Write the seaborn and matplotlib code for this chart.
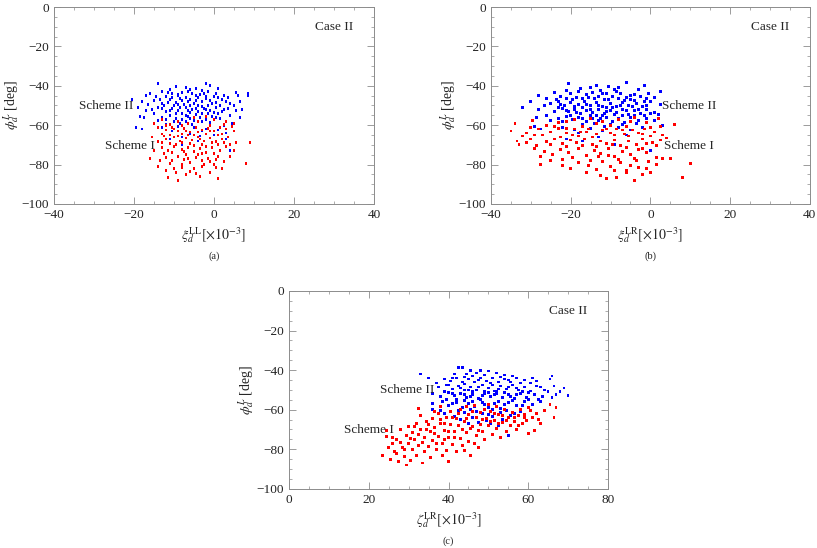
import pandas as pd
import matplotlib
matplotlib.use("Agg")
import matplotlib.pyplot as plt
import seaborn as sns
from matplotlib.ticker import MultipleLocator

# points (x in 10^-3, phi in deg)
a_scheme2 = [(-14,-39),(-9.5,-40.5),(-7,-41),(-2,-39),(-1,-40),(-4.5,-41.5),(-11,-42),(-6,-42),(1,-41.5),(-3,-42.5),
    (-16,-44),(-13,-43),(-10.5,-44),(-8,-43.5),(-5.5,-44),(-3.5,-44.5),(-1.5,-43),(0.5,-44),(2.5,-45),(5.5,-43.5),
    (8.5,-44),(8.5,-45),(-12,-45.5),(-9,-45),(-7,-46),(-4,-46),(-2,-45.5),(3.5,-46),(-14.5,-45.5),(6,-45),
    (-20.5,-47),(-18,-48),(-15,-47.5),(-13,-49),(-11,-47),(-9.5,-48.5),(-8,-47.5),(-6.5,-48),(-5,-49),(-3,-48),
    (-1,-47.5),(0.5,-48.5),(2,-47),(4,-49),(6.5,-48),(-7.5,-49.5),(-4,-50),(-10,-50),(-12.5,-50),(1.5,-50),(-16.5,-49.5),
    (-19,-51),(-17,-52.5),(-14,-51),(-12,-53),(-10.5,-51.5),(-9,-52.5),(-7,-51),(-5.5,-52),(-4,-53),(-2.5,-51.5),
    (-1,-52.5),(0.5,-51),(2,-53),(3.5,-51.5),(5.5,-52.5),(-8,-54),(-6,-53.5),(-3,-54),(-15,-54),(1,-54),
    (-18.5,-55.5),(-13,-56),(-11,-55),(-9.5,-56.5),(-8,-57),(-6.5,-55.5),(-5,-57.5),(-3.5,-56),(-2,-57),(-0.5,-55.5),
    (1.5,-56.5),(4,-55),(6.5,-56),(-10,-58),(-7,-58),(-1,-58.5),
    (-19.5,-61),(-18,-62),(-12,-59.5),(-9,-60.5),(-7.5,-62),(-5,-61),(-3,-63),(-1,-60),(1,-62.5),(2.5,-60),
    (-6,-64.5),(-10.5,-63),(0,-65),(3,-64),(-11,-67),(-4,-68),(3,-67),(4,-73),(-8,-70),(1,-70),
    (-11.5,-43.5),(-9,-44.5),(-6.5,-43),(-4.5,-45),(-2.5,-44),(0,-45.5),(-13.5,-47),(-10.5,-46),(-8.5,-46.5),(-6,-47),
    (-4.5,-47.5),(-2,-46.5),(-0.5,-49),(1,-46),(3,-48),(-11.5,-48.5),(-9,-49.5),(-6,-50),(-3,-50.5),(-1.5,-50),
    (-13,-51.5),(-11,-52.5),(-8.5,-51),(-6.5,-52.5),(-4.5,-51.5),(-2,-52),(0,-53.5),(2.5,-52),(-9.5,-54),(-7,-55),
    (-4.5,-54.5),(-1.5,-54),(0.5,-56),(-12,-57),(-6,-56.5),(-3,-58),(-8.5,-59),(-5.5,-59.5),(-17,-45),(-15.5,-52),
    (-17.5,-56),(5,-50),(7,-52),(-14,-57.5),(-13,-61),(-2,-62),(4.5,-59),(-8,-66),(-3.5,-65.5)]

a_scheme1 = [(-13,-57),(-9,-58),(-5,-56),(-2,-55.5),(0,-57),(3,-58),(5,-59),(-15,-59),(-11,-59.5),(-6.5,-59),
    (-14,-61),(-12,-62.5),(-10.5,-61),(-9,-63),(-7.5,-61.5),(-6,-63.5),(-4.5,-61),(-3,-62.5),(-1.5,-61.5),(0,-63),
    (1.5,-61),(3,-62),(4.5,-60.5),(-13,-64.5),(-8,-64.5),(-5,-65),(-2,-64.5),(2,-64.5),(5,-63),(-11,-65),
    (-15.5,-66),(-12,-67),(-10,-66),(-8.5,-68),(-7,-66.5),(-5.5,-67.5),(-4,-66),(-2.5,-68),(-1,-66.5),(0.5,-68.5),
    (2,-67),(3.5,-66),(5.5,-69),(-11,-69.5),(-6,-69.5),(-3,-70),(1,-70),(9,-69),(-14,-68.5),(-9.5,-70),
    (-13,-71.5),(-11.5,-73),(-10,-71),(-8,-72.5),(-6.5,-71.5),(-5,-73.5),(-3.5,-72),(-2,-74),(-0.5,-71.5),(1.5,-73),
    (3,-71),(-12.5,-74.5),(-7,-75),(-4,-75),(0,-74.5),
    (-16,-77),(-12,-76.5),(-10.5,-78),(-9,-76),(-7.5,-77.5),(-6,-79),(-4.5,-76.5),(-3,-78),(-1.5,-77),(1,-76),
    (2.5,-78.5),(-11,-79.5),(-8,-80),(8,-79.5),(0,-80),
    (-14,-81),(-12,-83),(-10,-82),(-8,-81.5),(-6,-83.5),(-5,-82),(-3,-81),(-1,-84),(0.5,-81.5),(-11.5,-86.5),
    (-9,-88),(-7,-85),(-4.5,-84.5),(1,-87),
    (-12,-60),(-8,-60),(-4,-58),(-1,-60),(2.5,-59.5),(-10,-62),(-7,-63),(-4,-63.5),(-1,-63),(1,-65),
    (-12.5,-65.5),(-9,-65.5),(-6.5,-65),(-3.5,-67),(-0.5,-69),(2.5,-69),(4,-70),(-13,-69),(-8,-69),(-5,-70.5),
    (-2,-71),(-10.5,-74),(-7.5,-73.5),(-3,-74.5),(0.5,-77.5),(4,-76),(-13.5,-78),(-6.5,-77),(-2.5,-80),(-9.5,-84),
    (-3.5,-86),(2,-82),(-15,-73),(5,-73),(-1,-78.5)]

b_scheme2 = [(-20.5,-39),(-17.5,-41.5),(-15,-41),(-12.5,-42.5),(-10.5,-40.5),(-9,-42),(-6,-38.5),(-1.5,-40),(-13.5,-40),(-8,-41),
    (-24,-43.5),(-22.5,-45.5),(-20,-44),(-18.5,-46),(-16,-44.5),(-14.5,-43.5),(-13,-45.5),(-11,-44),(-9.5,-45.5),(-7.5,-44),
    (-6,-46),(-4,-44.5),(-2.5,-45.5),(-0.5,-44),(2.5,-43),(-28,-45),(-26,-46.5),(-11.5,-47),(-19.5,-47),(-5,-47),
    (-30,-48),(-25,-49),(-23,-48),(-21.5,-50),(-20,-48.5),(-18,-49.5),(-16.5,-48),(-15,-50),(-13.5,-48.5),(-12,-50.5),
    (-10,-49),(-8.5,-50.5),(-7,-48.5),(-5.5,-50),(-3.5,-49),(-2,-50.5),(0,-48),(2.5,-49.5),(-17,-51),(-9.5,-51),
    (-32,-51),(-28,-52),(-24,-53),(-22,-51.5),(-20.5,-53),(-19,-52),(-17.5,-54),(-16,-52.5),(-14.5,-53.5),(-13,-52),
    (-11.5,-54),(-10,-52.5),(-8.5,-53.5),(-7,-52),(-5.5,-54.5),(-4,-52.5),(-2.5,-54),(-1,-52),(1,-53.5),(-26,-55),(-12,-55),
    (-23,-56.5),(-21,-55.5),(-19.5,-57),(-18,-56),(-16,-58),(-14.5,-56.5),(-13,-57.5),(-11,-56),(-9.5,-58),(-8,-56.5),
    (-6.5,-58.5),(-5,-56),(-3,-57.5),(-1,-56.5),(2,-54.5),(-17,-59.5),(-10,-59.5),
    (-29,-60.5),(-27.5,-62),(-22,-61),(-19,-62.5),(-15,-61.5),(-12,-63),(-8,-61),(-5,-62.5),(-2,-61),(3,-60),
    (-21,-67),(-17,-68),(-13,-66),(-6,-65),(0,-73),(-9,-70),
    (-21,-42.5),(-18,-43),(-15.5,-46),(-12,-44),(-8.5,-43),(-5,-45),(-3,-42),(-1,-46.5),(-23.5,-47),(-21,-46.5),
    (-17,-46.5),(-14,-46.5),(-10.5,-47),(-8,-46.5),(-6.5,-47.5),(-4,-47.5),(-1.5,-48),(1,-46),(-22.5,-49.5),(-19,-50.5),
    (-16,-49.5),(-13,-50),(-11,-51),(-7.5,-50),(-4.5,-50.5),(-1,-50),(-23,-51),(-21,-52.5),(-18.5,-53.5),(-15,-52),
    (-13.5,-55),(-11,-53),(-9,-54.5),(-6,-52.5),(-3,-52),(0,-54),(-20,-55),(-17,-56.5),(-15,-55),(-12.5,-56.5),
    (-7,-55),(-4,-55),(-1.5,-55),(-22,-58),(-14,-59),(-11.5,-60.5),(-7,-59.5),(-3.5,-59),(-25,-57.5),(-18,-64),
    (1,-57.5),(-26.5,-50),(-28.5,-56)]

b_scheme1 = [(-29.5,-57.5),(-23,-58.5),(-19,-57),(-15,-56.5),(-12,-58),(-8,-57),(-4,-56),(-1,-58.5),(2,-56.5),(6,-59.5),
    (-34,-59),(-26,-60),(-17,-60.5),(-10,-60),(-6,-60.5),(0,-61),
    (-35,-63),(-31,-64),(-28,-62),(-25,-63.5),(-23,-61.5),(-21,-64),(-19,-62),(-17.5,-63.5),(-15.5,-62),(-13.5,-64.5),
    (-12,-62.5),(-10,-64),(-8.5,-62),(-6.5,-64.5),(-4.5,-62.5),(-3,-64),(-1.5,-62),(1,-63.5),(3,-65),(-32,-65.5),(-27,-65),(-18,-65.5),
    (-33.5,-68),(-30,-67),(-28.5,-70.5),(-26,-68.5),(-24,-67),(-22,-69.5),(-20,-67.5),(-18.5,-69),(-16.5,-67),(-14.5,-70),
    (-12.5,-68),(-11,-69.5),(-9,-67.5),(-7.5,-70.5),(-5.5,-68),(-3.5,-70),(-2,-67),(0.5,-69),(2.5,-67.5),(4,-66.5),(-33,-70),
    (-29,-72),(-26.5,-73.5),(-24.5,-75),(-22.5,-72.5),(-20.5,-74),(-18,-72),(-16,-75.5),(-14,-73),(-12.5,-74.5),(-10.5,-72),
    (-9,-76),(-7,-73.5),(-5,-75),(-3,-72.5),(-1,-74),(1.5,-76.5),(-19.5,-76.5),(-13,-76),
    (-27.5,-80),(-25,-78),(-22,-80.5),(-18,-79),(-15.5,-80.5),(-12,-78.5),(-10,-81),(-7.5,-79),(-5,-80.5),(-3.5,-78),
    (-1,-82),(1.5,-80),(3,-77),(10,-79.5),(-13.5,-82.5),(-6,-83),
    (-16,-84),(-12.5,-85.5),(-11,-87),(-8.5,-86.5),(-6,-84),(-4,-88),(-2,-85),(8,-86.5),
    (-21,-58),(-13.5,-59),(-5,-58),(2.5,-60.5),(-30,-61),(-24,-60.5),(-21,-61.5),(-16,-63.5),(-11,-62),(-7,-62.5),
    (-2,-64.5),(0,-65.5),(-29,-65),(-22.5,-66),(-19.5,-65),(-14.5,-66),(-9,-65),(-5.5,-65.5),(-1,-69.5),(1.5,-70.5),
    (-31,-69),(-25,-70),(-21,-71),(-17,-70.5),(-13.5,-71),(-9.5,-70),(-6,-71.5),(-2,-72),(-27.5,-76),(-22,-77.5),
    (-15,-78),(-10.5,-75.5),(-8,-77.5),(-4,-77),(-0.5,-78.5),(-20,-82),(-9,-83),(-3,-81.5),(0,-84),(5,-77)]

c_scheme2 = [(42.5,-38.5),(43.5,-38.5),(45.5,-40),(48,-40),(50,-40.5),(52,-41.5),(44.5,-42),(47,-41.5),(41.5,-42),(33,-42),
    (54,-42.5),(56,-43),(66,-43),(49,-42.5),
    (35,-44),(39,-44.5),(40.5,-45.5),(42,-44),(43.5,-46),(45,-44.5),(46.5,-46),(48,-44),(49.5,-45.5),(51,-44),
    (52.5,-46),(54,-44.5),(55.5,-46),(57,-44),(59,-45),(60.5,-46.5),(62,-45.5),(65.5,-44.5),(37,-46.5),(44,-47),
    (37.5,-48.5),(39.5,-47.5),(41,-49.5),(42.5,-48),(44,-50),(45.5,-48.5),(47,-50),(48.5,-47.5),(50,-49),(51.5,-50.5),
    (53,-48),(54.5,-49.5),(56,-47.5),(57.5,-50),(59,-48.5),(60.5,-50.5),(62,-48),(64,-50),(66.5,-48),(69,-49),(46,-51),(52,-51),
    (36,-52),(38,-53.5),(40,-51.5),(41.5,-53),(43,-52),(44.5,-54),(46,-52.5),(47.5,-54.5),(49,-52),(50.5,-53.5),
    (52,-52),(53.5,-54),(55,-52.5),(56.5,-54.5),(58,-52),(59.5,-54),(61.5,-52.5),(63.5,-53.5),(67,-52.5),(70,-53),(42,-55),(48,-55),
    (36,-57),(38.5,-56),(40,-58),(42,-56.5),(43.5,-59),(45,-57),(46.5,-58.5),(48.5,-56.5),(50,-59),(51.5,-57),
    (53,-59.5),(55,-56.5),(57,-58),(59,-56),(61,-57.5),(63,-56),(36,-60),(45.5,-60),(51,-60),
    (39,-62),(41.5,-63.5),(44,-61.5),(46,-64),(48.5,-62),(51,-63.5),(53,-61.5),(55.5,-63),(49.5,-65.5),(45,-67),
    (52.5,-68),(55,-73),(58,-61),
    (41,-44),(44,-43.5),(46,-43),(47.5,-45),(50.5,-46.5),(53,-43.5),(55,-45),(58,-46.5),(61,-44),(40,-47.5),
    (43,-49),(45,-50),(47.5,-48.5),(49,-50.5),(51,-47.5),(52.5,-49.5),(55,-48.5),(57,-49),(58.5,-51),(63,-48.5),
    (65,-51),(39,-51),(41,-52),(44,-52.5),(45.5,-53.5),(48.5,-53),(50,-51.5),(51.5,-52.5),(54,-51.5),(55.5,-53.5),
    (57,-52.5),(60,-51.5),(62.5,-55),(66,-54),(68,-51),(39.5,-55),(41,-57),(44,-55.5),(46,-56),(49,-57.5),
    (52.5,-56),(54,-57.5),(56,-55.5),(58.5,-58),(60,-55),(38,-60.5),(42.5,-60.5),(47,-61),(50,-62.5),(54.5,-60.5),
    (56.5,-62),(43,-65),(47.5,-66.5),(50.5,-67),(53.5,-65)]

c_scheme1 = [(23.5,-83),(24.5,-73.5),(25,-79),(25.5,-85),(26,-77),(26.5,-81),(27,-75),(27.5,-86),(28,-70),(28.5,-79),
    (29,-83.5),(29.5,-88),(29.5,-73),(30,-68.5),(30,-77),(24.5,-70.5),
    (30.5,-85.5),(31,-80),(31,-71.5),(31.5,-75),(32,-67),(32,-83),(32.5,-78),(33,-63),(33,-70),(33.5,-87),
    (34,-74),(34,-81),(34.5,-66),(35,-78.5),(35.5,-71),(35.5,-84),(36,-64.5),(36,-75.5),(32.5,-59.5),
    (36.5,-69),(37,-80),(37.5,-62),(37.5,-73.5),(38,-67),(38.5,-77),(38.5,-83),(39,-70.5),(39.5,-64),(39.5,-80.5),
    (40,-74),(40.5,-61),(40.5,-67.5),(41,-77.5),(41.5,-71),(42,-64.5),(42,-81),(38,-58.5),(40,-86),
    (42.5,-68),(43,-74.5),(43,-60),(43.5,-78),(44,-66),(44.5,-71.5),(45,-62.5),(45,-76),(45.5,-83),(46,-68.5),
    (46.5,-58),(47,-73),(47,-64),(47.5,-79),(48,-67.5),(48,-61.5),(44,-80.5),
    (48.5,-71),(49,-75),(49.5,-64.5),(50,-68),(50.5,-61),(51,-72.5),(51.5,-65.5),(52,-69.5),(52.5,-62.5),(53,-74),
    (53.5,-66.5),(54,-60),(54.5,-71),(55,-64),(55.5,-68),(56,-61.5),(50,-57.5),
    (56.5,-66),(57,-70),(57.5,-63),(58,-60),(58.5,-67),(59,-62.5),(59.5,-65.5),(60,-72),(60.5,-60.5),(61,-64),
    (61.5,-70.5),(62,-62),(63,-67),(65.5,-57.5),(66.5,-64),(67,-59),(60,-59),
    (26,-74),(27,-82),(28,-76.5),(29,-80),(30.5,-74.5),(31.5,-68.5),(32.5,-72.5),(33.5,-76.5),(34.5,-70),(35,-67.5),
    (36.5,-72),(37,-77),(38,-65),(39,-67),(40,-71),(41,-64),(41.5,-74),(42.5,-62),(43.5,-70),(44.5,-64.5),
    (45.5,-69.5),(46,-61),(47.5,-70.5),(48.5,-65),(49,-60),(50.5,-66),(51.5,-62),(52.5,-67),(53.5,-63),(54.5,-65.5),
    (56.5,-64),(57.5,-68),(59,-64),(62.5,-65),(64,-60.5),(36.5,-61),(44.5,-58.5),(52,-58.5),(39,-75),(46.5,-77)]

x_labels = [r'$\xi_d^{\rm LL}[\times 10^{-3}]$', r'$\xi_d^{\rm LR}[\times 10^{-3}]$', r'$\zeta_d^{\rm LR}[\times 10^{-3}]$']
y_label = r'$\phi_d^L$ [deg]'
sub_captions = ['(a)', '(b)', '(c)']
x_ranges = [(-40, 40), (-40, 40), (0, 80)]

sns.set_style('ticks')
plt.rcParams['font.family'] = ['Liberation Serif', 'DejaVu Serif']
plt.rcParams['mathtext.fontset'] = 'stix'

fig = plt.figure(figsize=(8.17, 5.48), dpi=100)
boxes = [[0.066, 0.628, 0.392, 0.359], [0.601, 0.628, 0.390, 0.359], [0.354, 0.108, 0.390, 0.361]]
panels = [(a_scheme2, a_scheme1), (b_scheme2, b_scheme1), (c_scheme2, c_scheme1)]
# label positions (data coords): Scheme II, Scheme I, Case II
label_pos = [((-27, -50.3), (-21, -70.4), (30, -10)),
             ((9.7, -50.3), (9.6, -70.4), (30, -10)),
             ((29.5, -50.3), (20, -70.4), (70, -10))]

frame_col = '#8c8c8c'
for i in range(3):
    s2, s1 = panels[i]
    df = pd.DataFrame(s2 + s1, columns=['x', 'phi'])
    df['scheme'] = ['Scheme II'] * len(s2) + ['Scheme I'] * len(s1)
    ax = fig.add_axes(boxes[i])
    sns.scatterplot(data=df, x='x', y='phi', hue='scheme', palette={'Scheme II': '#0000ff', 'Scheme I': '#ff0000'},
                    marker='s', s=4, linewidth=0, legend=False, ax=ax)
    ax.set_xlim(*x_ranges[i])
    ax.set_ylim(-100, 0)
    ax.xaxis.set_major_locator(MultipleLocator(20))
    ax.xaxis.set_minor_locator(MultipleLocator(5))
    ax.yaxis.set_major_locator(MultipleLocator(20))
    ax.yaxis.set_minor_locator(MultipleLocator(5))
    ax.tick_params(which='both', direction='in', top=True, right=True, color=frame_col, labelsize=9.5, labelcolor='#222222')
    ax.tick_params(which='major', length=5, width=0.6)
    ax.tick_params(which='minor', length=2.5, width=0.5)
    for sp in ax.spines.values():
        sp.set_color(frame_col)
        sp.set_linewidth(0.7)
    ax.set_xlabel(x_labels[i], fontsize=10, labelpad=3)
    ax.set_ylabel(y_label, fontsize=10, labelpad=0)
    p2, p1, pc = label_pos[i]
    ax.text(*p2, 'Scheme II', fontsize=9.5, ha='center', va='center')
    ax.text(*p1, 'Scheme I', fontsize=9.5, ha='center', va='center')
    ax.text(*pc, 'Case II', fontsize=9.5, ha='center', va='center')
    ax.text(0.5, -0.265, sub_captions[i], transform=ax.transAxes, fontsize=7.5, ha='center', va='center')

fig.savefig('out.png', dpi=100)
